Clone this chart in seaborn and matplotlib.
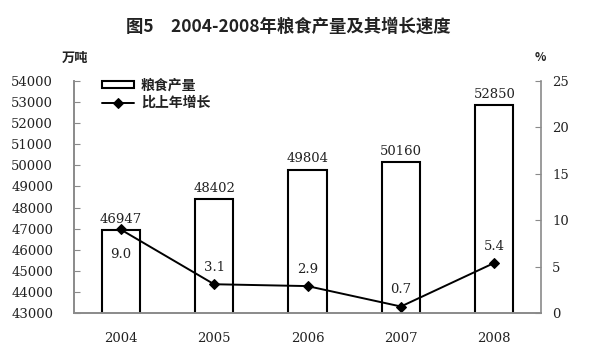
import matplotlib
matplotlib.use("Agg")
import matplotlib.pyplot as plt
import seaborn as sns
import pandas as pd
import numpy as np

# data
years = ['2004', '2005', '2006', '2007', '2008']
output = [46947, 48402, 49804, 50160, 52850]      # 万吨
growth = [9.0, 3.1, 2.9, 0.7, 5.4]                # %

df = pd.DataFrame({'year': years, 'output': output, 'growth': growth})
df['pos'] = np.arange(len(df))

sns.set_style("white")
plt.rcParams['font.family'] = ['DejaVu Serif', 'Noto Sans CJK SC']
cjk = ['Noto Sans CJK SC', 'DejaVu Sans']
axis_gray = '#8a8a8a'
txt = '#222222'

fig = plt.figure(figsize=(6, 3.53), dpi=100)
ax = fig.add_axes([0.1233, 0.1133, 0.7784, 0.6572])

sns.barplot(data=df, x='year', y='output', ax=ax, color='white', saturation=1,
            edgecolor='black', linewidth=1.5, width=0.41, label='粮食产量')
ax.set_ylim(43000, 54000)
ax.set_xlim(-0.5, 4.5)
ax.set_yticks(range(43000, 54001, 1000))
ax.set_xlabel('')
ax.set_ylabel('')

for i, v in enumerate(output):
    ax.annotate(f'{v}', (i, v), xytext=(0, 3), textcoords='offset points',
                ha='center', va='bottom', fontsize=9.5, color=txt)

ax2 = ax.twinx()
sns.lineplot(data=df, x='pos', y='growth', ax=ax2, color='black', linewidth=1.4,
             marker='D', markersize=5, markeredgecolor='black', label='比上年增长')
ax2.set_ylim(0, 25)
ax2.set_yticks(range(0, 26, 5))
ax2.set_xlim(-0.5, 4.5)
ax2.set_ylabel('')
ax2.set_xlabel('')

for i, v in enumerate(growth):
    dy = -18 if i == 0 else 12
    ax2.annotate(f'{v:.1f}', (i, v), xytext=(0, dy), textcoords='offset points',
                 ha='center', va='center', fontsize=9.5, color=txt)

# axis styling
for a in (ax, ax2):
    for s in a.spines.values():
        s.set_color(axis_gray)
        s.set_linewidth(1.2)
    a.spines['top'].set_visible(False)
ax.spines['right'].set_visible(False)

ax.tick_params(axis='y', direction='in', length=4, color=axis_gray, pad=15,
               labelsize=9.5, labelcolor=txt)
ax2.tick_params(axis='y', direction='in', length=4, color=axis_gray, pad=8,
                labelsize=9.5, labelcolor=txt)
ax.set_xticks(np.arange(len(years)))
ax.set_xticklabels(years)
ax.set_xticks(np.arange(len(years) + 1) - 0.5, minor=True)
ax.tick_params(axis='x', which='major', length=0, pad=14, labelsize=9.5, labelcolor=txt)
ax.tick_params(axis='x', which='minor', direction='in', length=4, color=axis_gray)
ax2.tick_params(axis='x', which='both', length=0, labelbottom=False)

# legend
h1, l1 = ax.get_legend_handles_labels()
h2, l2 = ax2.get_legend_handles_labels()
if ax2.get_legend():
    ax2.get_legend().remove()
leg = ax.legend(h1 + h2, l1 + l2, loc='upper left', bbox_to_anchor=(0.06, 1.01),
                frameon=False, borderpad=0, borderaxespad=0, handlelength=2.3,
                handleheight=0.4, handletextpad=0.5, labelspacing=0.25,
                prop={'family': cjk, 'size': 10, 'weight': 'bold'})
for t in leg.get_texts():
    t.set_color(txt)

fig.text(0.48, 0.9235, '图5　2004-2008年粮食产量及其增长速度', ha='center', va='center',
         fontsize=12.5, fontweight='bold', family=cjk, color=txt)
fig.text(0.125, 0.836, '万吨', ha='center', va='center', fontsize=9.5,
         fontweight='bold', family=cjk, color=txt)
fig.text(0.9, 0.836, '%', ha='center', va='center', fontsize=8.5,
         fontweight='bold', family=cjk, color=txt)

fig.savefig('out.png', dpi=100)
